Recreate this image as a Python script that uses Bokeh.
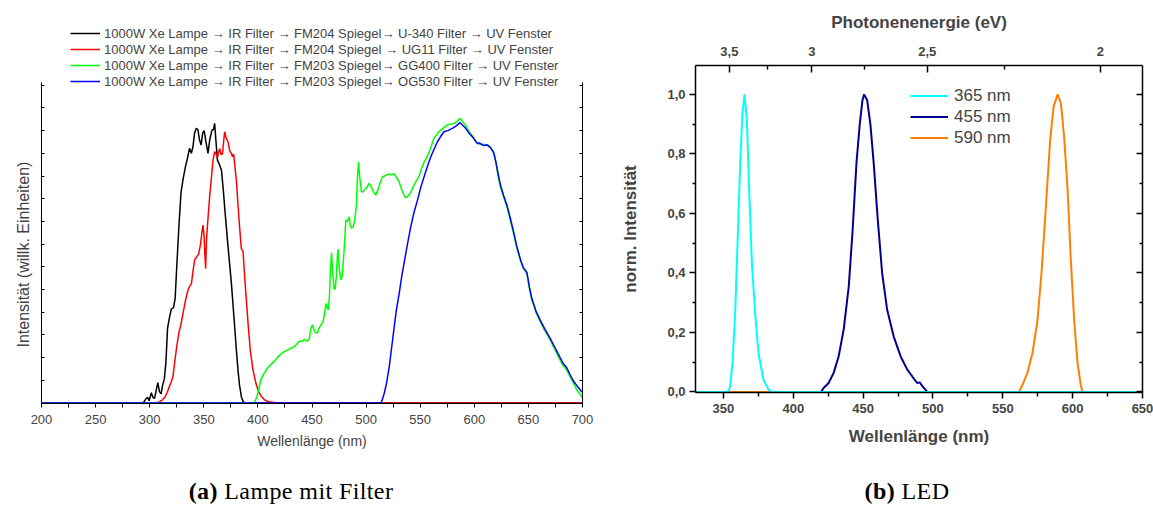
from bokeh.plotting import figure
from bokeh.models import (Range1d, LinearAxis, FixedTicker, CustomJSTickFormatter,
                          Legend, LegendItem, Div, Title)
from bokeh.layouts import row, column
from bokeh.embed import file_html
from bokeh.resources import INLINE

# ---------------- data: (a) lamp with filters (arbitrary units) ----------------
u340_x = [200, 294, 296, 298, 299.5, 301.5, 303, 304.5, 306, 307.5, 309, 310.5, 312, 313.5, 315,
          316.5, 318, 320, 322, 323.5, 325, 327, 329, 331, 333, 335, 336.8, 338.5, 340, 341.5,
          343, 344.5, 346, 347.5, 349, 350.3, 352, 353.9, 355.5, 357.6, 359, 360, 361.3, 362.6,
          364.5, 366.3, 368, 369.5, 372, 375.5, 378, 380, 381.6, 383, 384.7, 386.5, 388, 700]
u340_y = [0, 0, 0.15, 0.25, 0.1, 0.45, 0.25, 0.2, 0.55, 0.9, 0.5, 0.4, 0.8, 1.05, 1.8,
          3.3, 3.7, 4.15, 4.2, 4.6, 6.0, 7.8, 9.3, 9.9, 10.4, 10.8, 11.22, 11.0, 11.3, 11.9,
          12.1, 12.05, 11.6, 11.37, 11.9, 12.0, 11.5, 11.0, 11.6, 12.03, 12.05, 12.32, 11.5, 10.7,
          10.5, 10.26, 9.4, 8.5, 7.1, 5.27, 3.7, 2.4, 1.45, 0.8, 0.28, 0.05, 0, 0]

ug11_x = [200, 305, 309, 312, 314, 316, 318, 320, 321.5, 323, 325, 327, 329, 331, 333, 335.4,
          337, 338.5, 340, 341.5, 343.5, 345.2, 347, 348.5, 349.3, 350.3, 351, 351.7, 352.5,
          353.5, 355.4, 357, 358.5, 360, 361.5, 362.6, 364, 364.7, 366, 367.2, 368.5, 369.3,
          370.5, 372.4, 374, 375.5, 376.5, 377.6, 379, 380.1, 381.5, 383, 384.7, 386.3, 388,
          390.9, 393, 395.5, 398, 400.1, 403, 406.3, 410, 415.5, 420, 700]
ug11_y = [0, 0, 0.05, 0.15, 0.25, 0.45, 0.7, 0.95, 1.16, 1.75, 2.5, 3.1, 3.5, 4.0, 4.5, 4.98,
          5.15, 5.25, 5.8, 6.3, 6.45, 6.55, 7.0, 7.6, 7.84, 7.3, 6.5, 5.93, 7.2,
          7.9, 9.09, 9.9, 10.7, 11.07, 10.95, 10.8, 11.1, 11.2, 10.95, 10.97, 11.6, 11.95,
          11.7, 11.5, 11.1, 11.0, 10.85, 10.97, 10.3, 9.82, 8.8, 7.8, 6.8, 6.67, 5.4,
          3.51, 2.3, 1.45, 0.9, 0.57, 0.3, 0.13, 0.05, 0.02, 0, 0]

gg400_x = [200, 396.5, 398, 399.6, 401, 402.6, 405, 408.8, 412, 414.9, 418, 421.1, 424, 427.2,
           430, 433.4, 436, 438.3, 441, 443, 445.6, 447.5, 449, 450.5, 452, 453.3, 455.2, 456.5,
           458.3, 460, 461.5, 462.9, 464, 465, 466, 467, 468.1, 469, 470.5, 471.5, 472.5, 473.5,
           474.2, 475, 476.6, 478, 479.5, 481.3, 482.5, 484.3, 485.5, 486.5, 488, 489.5, 491,
           492, 493, 494, 495.7, 497, 498.2, 500, 502.8, 505, 507, 508.9, 511, 513, 515.1, 517,
           519, 521.2, 523.5, 525.8, 528, 530.4, 533, 535.6, 537.5, 539.6, 542, 544.2, 546.5,
           548.8, 551, 553.5, 556.5, 559.5, 562.6, 565, 567.2, 571, 574.9, 578, 581, 584, 586,
           587.2, 589, 591.8, 594, 596.4, 599, 602.5, 605, 608, 611.7, 615, 617.9, 620, 622,
           624, 627, 630.2, 633, 636.3, 639, 642.5, 645, 648.6, 651, 653.2, 657, 660.9, 665,
           670.1, 675, 679.3, 682, 685.5, 688, 691.6, 695, 699.3, 700]
gg400_y = [0, 0, 0.15, 0.35, 0.65, 1.0, 1.25, 1.53, 1.7, 1.82, 2.0, 2.15, 2.25, 2.33,
           2.4, 2.48, 2.6, 2.72, 2.72, 2.8, 2.72, 2.85, 3.3, 3.44, 3.2, 3.1, 3.1, 3.3,
           3.44, 3.55, 3.9, 4.39, 4.2, 4.1, 4.6, 5.8, 6.62, 5.8, 5.0, 5.05, 5.6, 6.5,
           6.77, 6.0, 5.42, 5.6, 6.6, 8.06, 8.0, 8.2, 7.8, 7.7, 7.75, 8.06, 8.7,
           9.9, 10.63, 10.0, 9.31, 9.3, 9.38, 9.45, 9.68, 9.5, 9.3, 9.16, 9.4, 9.7, 9.97, 10.0,
           10.05, 10.09, 10.05, 10.1, 9.95, 9.75, 9.4, 9.09, 9.05, 9.16, 9.35, 9.6, 9.8,
           9.97, 10.3, 10.6, 10.85, 11.2, 11.66, 11.8, 11.95, 12.1, 12.25, 12.28, 12.32, 12.4, 12.5,
           12.54, 12.4, 12.25, 12.05, 11.88, 11.7, 11.44, 11.4, 11.4, 11.37, 11.25, 11.07, 10.6, 10.0,
           9.53, 9.1, 8.65, 8.1, 7.47, 6.9, 6.3, 5.95, 5.71, 5.0, 4.54, 4.0, 3.58, 3.2,
           2.78, 2.3, 1.89, 1.65, 1.45, 1.2, 0.87, 0.55, 0.28, 0.25]

og530_x = [200, 513.7, 515, 516.8, 519, 521.4, 523.5, 526, 528, 530.6, 533, 536.7, 539, 541.3,
           544, 547.5, 550.5, 553.6, 556.5, 559.8, 563, 565.9, 569, 572, 575.5, 579.7, 583,
           586.8, 589, 592, 595, 598.2, 602.8, 605, 608, 612, 615, 618.1, 620, 622, 624.2, 627,
           630.2, 633, 636.3, 639, 642.5, 645, 648.6, 651, 653.2, 657, 660.9, 665, 670.1, 675,
           679.3, 682, 685.5, 688, 691.6, 695, 699.3, 700]
og530_y = [0, 0, 0.15, 0.43, 0.9, 1.6, 2.4, 3.36, 4.1, 4.83, 5.6, 6.59, 7.2, 7.77,
           8.35, 8.94, 9.5, 9.97, 10.4, 10.85, 11.2, 11.51, 11.75, 11.95, 12.0, 12.1, 12.2,
           12.35, 12.25, 12.1, 11.9, 11.73, 11.44, 11.45, 11.35, 11.37, 11.25, 11.0, 10.6, 10.1, 9.6, 9.15,
           8.7, 8.2, 7.55, 6.95, 6.35, 6.0, 5.75, 5.1, 4.6, 4.05, 3.65, 3.28, 2.85, 2.4,
           2.0, 1.75, 1.55, 1.3, 0.97, 0.75, 0.5, 0.48]

lamp_labels = [
    "1000W Xe Lampe \u2192 IR Filter \u2192 FM204 Spiegel\u2192 U-340 Filter \u2192 UV Fenster",
    "1000W Xe Lampe \u2192 IR Filter \u2192 FM204 Spiegel \u2192 UG11 Filter \u2192 UV Fenster",
    "1000W Xe Lampe \u2192 IR Filter \u2192 FM203 Spiegel\u2192 GG400 Filter \u2192 UV Fenster",
    "1000W Xe Lampe \u2192 IR Filter \u2192 FM203 Spiegel\u2192 OG530 Filter \u2192 UV Fenster",
]
lamp_colors = ["#000000", "#ff0000", "#00ff00", "#0000ff"]
lamp_xticks = list(range(200, 701, 50))
lamp_xminor = list(range(225, 700, 50))
lamp_yticks = list(range(0, 15))
lamp_ytop = 14.14

# ---------------- data: (b) LEDs (normalised) ----------------
led365_x = [330, 353.6, 354.8, 356.5, 358.4, 360.0, 362.0, 363.6, 365.1, 366.8, 368.4, 370.4,
            372.7, 375.1, 378.7, 382.3, 384.7, 650]
led365_y = [0, 0, 0.02, 0.097, 0.265, 0.49, 0.77, 0.935, 1.0, 0.913, 0.68, 0.43,
            0.265, 0.13, 0.04, 0.008, 0, 0]

led455_x = [330, 419.9, 421.7, 425.3, 428.9, 432.5, 436.1, 439.7, 442.5, 445.2, 447.6, 449.5,
            450.7, 452.9, 455.2, 457.6, 460.5, 463.6, 467.2, 471.9, 476.8, 481.6, 485.5,
            488.7, 490.5, 492.3, 495.9, 650]
led455_y = [0, 0, 0.013, 0.03, 0.064, 0.12, 0.21, 0.354, 0.544, 0.767, 0.9, 0.98,
            1.0, 0.98, 0.9, 0.767, 0.578, 0.4, 0.276, 0.186, 0.12, 0.075, 0.05,
            0.03, 0.032, 0.02, 0, 0]

led590_x = [330, 561.6, 564.1, 567.6, 571.2, 574.8, 577.7, 580.8, 583.9, 586.3, 589.2, 591.6,
            593.9, 596.4, 598.7, 601.1, 603.5, 605.9, 607.1, 650]
led590_y = [0, 0, 0.024, 0.064, 0.13, 0.24, 0.4, 0.62, 0.846, 0.957, 1.0, 0.97,
            0.857, 0.678, 0.443, 0.24, 0.097, 0.02, 0, 0]

led_labels = ["365 nm", "455 nm", "590 nm"]
led_colors = ["#00ffff", "#000090", "#ff8000"]
led_xticks = list(range(350, 651, 50))
led_xminor = list(range(375, 650, 50))
led_yticks = [0.0, 0.2, 0.4, 0.6, 0.8, 1.0]
led_yminor = [0.1, 0.3, 0.5, 0.7, 0.9]
energy_ticks = [3.5, 3.0, 2.5, 2.0]
energy_minor = [3.25, 2.75, 2.25]
HC = 1239.84  # eV*nm

FONT = "Liberation Sans"

# ---------------- figure (a) ----------------
p1 = figure(width=600, height=478, output_backend="svg", toolbar_location=None,
            x_range=Range1d(200, 700), y_range=Range1d(-0.022, 16.94),
            min_border_left=41, min_border_right=18, min_border_top=18, min_border_bottom=75)
p1.outline_line_color = None
p1.grid.visible = False

xa = p1.xaxis[0]
xa.ticker = FixedTicker(ticks=lamp_xticks, minor_ticks=lamp_xminor)
xa.major_tick_out = 4
xa.major_tick_in = 0
xa.minor_tick_out = 4
xa.minor_tick_in = 0
xa.major_label_text_font = FONT
xa.major_label_text_font_size = "13px"
xa.major_label_standoff = 7
xa.axis_label = "Wellenlänge (nm)"
xa.axis_label_text_font = FONT
xa.axis_label_text_font_size = "14px"
xa.axis_label_text_font_style = "normal"
xa.axis_label_standoff = 6

ya = p1.yaxis[0]
ya.ticker = FixedTicker(ticks=lamp_yticks, minor_ticks=[])
ya.bounds = (0, lamp_ytop)
ya.major_tick_in = 3
ya.major_tick_out = 0
ya.minor_tick_in = 0
ya.minor_tick_out = 0
ya.major_label_text_font_size = "1px"
ya.major_label_text_color = None
ya.major_label_standoff = 0

# y label as a side title so it can be centred on the drawn (bounded) axis
ytitle = Title(text="Intensität (willk. Einheiten)", align="left", offset=56,
               vertical_align="top", text_font=FONT, text_font_size="16px",
               text_font_style="normal", standoff=16)
p1.add_layout(ytitle, "left")

ra = LinearAxis(ticker=FixedTicker(ticks=lamp_yticks, minor_ticks=[]), bounds=(0, lamp_ytop),
                major_tick_in=3, major_tick_out=0, minor_tick_in=0, minor_tick_out=0,
                major_label_text_font_size="1px", major_label_text_color=None,
                major_label_standoff=0)
p1.add_layout(ra, "right")

lamp_series = [(u340_x, u340_y), (ug11_x, ug11_y), (gg400_x, gg400_y), (og530_x, og530_y)]
items = []
for (xs, ys), c, lab in zip(lamp_series, lamp_colors, lamp_labels):
    r = p1.line(xs, ys, line_color=c, line_width=1.5)
    items.append(LegendItem(label=lab, renderers=[r]))

leg1 = Legend(items=items, location=(25, 310), label_text_font=FONT,
              label_text_font_size="13px", glyph_width=30, glyph_height=16,
              label_height=16, spacing=0, padding=4, label_standoff=4, margin=0,
              border_line_alpha=0, background_fill_alpha=0)
p1.add_layout(leg1)

# ---------------- figure (b) ----------------
p2 = figure(width=553, height=478, output_backend="svg", toolbar_location=None,
            x_range=Range1d(330, 650), y_range=Range1d(-0.002, 1.097),
            min_border_left=95, min_border_right=11, min_border_top=65, min_border_bottom=86)
p2.outline_line_color = None
p2.grid.visible = False

comma = CustomJSTickFormatter(code="return tick.toFixed(1).replace('.', ',');")
efmt = CustomJSTickFormatter(code="""
const e = %s / tick;
const r = Math.round(e * 2) / 2;
return (Number.isInteger(r) ? r.toFixed(0) : r.toFixed(1)).replace('.', ',');
""" % HC)

bx = p2.xaxis[0]
bx.ticker = FixedTicker(ticks=led_xticks, minor_ticks=led_xminor)
bx.major_tick_out = 6
bx.major_tick_in = 0
bx.minor_tick_out = 4
bx.minor_tick_in = 0
bx.axis_line_width = 1.5
bx.major_tick_line_width = 1.5
bx.minor_tick_line_width = 1.5
bx.major_label_text_font = FONT
bx.major_label_text_font_style = "bold"
bx.major_label_text_font_size = "13px"
bx.major_label_standoff = 5
bx.axis_label = "Wellenlänge (nm)"
bx.axis_label_text_font = FONT
bx.axis_label_text_font_size = "17px"
bx.axis_label_text_font_style = "bold"
bx.axis_label_standoff = 11

by = p2.yaxis[0]
by.ticker = FixedTicker(ticks=led_yticks, minor_ticks=led_yminor)
by.formatter = comma
by.major_tick_out = 6
by.major_tick_in = 0
by.minor_tick_out = 3
by.minor_tick_in = 0
by.axis_line_width = 1.5
by.major_tick_line_width = 1.5
by.minor_tick_line_width = 1.5
by.major_label_text_font = FONT
by.major_label_text_font_style = "bold"
by.major_label_text_font_size = "13px"
by.major_label_standoff = 4
by.axis_label = "norm. Intensität"
by.axis_label_text_font = FONT
by.axis_label_text_font_size = "17px"
by.axis_label_text_font_style = "bold"
by.axis_label_standoff = 24

top = LinearAxis(ticker=FixedTicker(ticks=[HC / e for e in energy_ticks],
                                    minor_ticks=[HC / e for e in energy_minor]),
                 formatter=efmt, major_tick_in=7, major_tick_out=0,
                 minor_tick_in=4, minor_tick_out=0,
                 axis_line_width=1.5, major_tick_line_width=1.5, minor_tick_line_width=1.5,
                 major_label_text_font=FONT, major_label_text_font_style="bold",
                 major_label_text_font_size="13px", major_label_standoff=10,
                 axis_label="Photonenenergie (eV)", axis_label_text_font=FONT,
                 axis_label_text_font_size="17px", axis_label_text_font_style="bold",
                 axis_label_standoff=12)
p2.add_layout(top, "above")

rax = LinearAxis(ticker=FixedTicker(ticks=led_yticks, minor_ticks=led_yminor),
                 major_tick_in=6, major_tick_out=0, minor_tick_in=3, minor_tick_out=0,
                 axis_line_width=1.5, major_tick_line_width=1.5, minor_tick_line_width=1.5,
                 major_label_text_font_size="1px", major_label_text_color=None,
                 major_label_standoff=0)
p2.add_layout(rax, "right")

led_series = [(led365_x, led365_y), (led455_x, led455_y), (led590_x, led590_y)]
rends = [None, None, None]
for i in [1, 2, 0]:
    xs, ys = led_series[i]
    rends[i] = p2.line(xs, ys, line_color=led_colors[i], line_width=2)

leg2 = Legend(items=[LegendItem(label=l, renderers=[r]) for l, r in zip(led_labels, rends)],
              location=(213, 242), label_text_font=FONT, label_text_font_size="17px",
              glyph_width=38, glyph_height=21, label_height=21, spacing=0, padding=2,
              label_standoff=6, margin=0, border_line_alpha=0, background_fill_alpha=0)
p2.add_layout(leg2)

# ---------------- captions ----------------
cap_style = {"text-align": "center", "font-family": "'Liberation Serif', serif",
             "font-size": "24px", "letter-spacing": "0.4px", "line-height": "26px",
             "color": "#000"}
div_a = Div(text="<b>(a)</b> Lampe mit Filter", width=582, height=26, margin=(0, 0, 0, 0),
            styles=cap_style)
div_b = Div(text="<b>(b)</b> LED", width=300, height=26, margin=(0, 0, 0, 157),
            styles=cap_style)

layout = row(column(p1, div_a), column(p2, div_b))

open("out.html", "w").write(file_html(layout, INLINE, title="Spektren"))
